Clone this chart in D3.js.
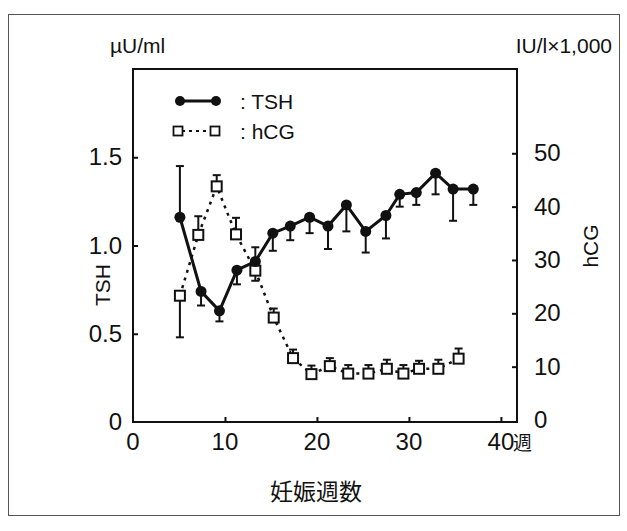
<!DOCTYPE html>
<html>
<head>
<meta charset="utf-8">
<script src="https://cdn.jsdelivr.net/npm/d3@7"></script>
<style>
  body { margin: 0; background: #fff; }
  text { font-family: "Liberation Sans", Arial, sans-serif; fill: #111; }
</style>
</head>
<body>
<svg id="chart" width="627" height="531"></svg>
<script>
// TSH (left axis, µU/ml)
const tshWeeks = [5.1, 7.4, 9.4, 11.3, 13.3, 15.2, 17.1, 19.2, 21.2, 23.2, 25.3, 27.5, 29.0, 30.8, 32.9, 34.8, 37.0];
const tshMean  = [1.16, 0.74, 0.63, 0.86, 0.91, 1.07, 1.11, 1.16, 1.11, 1.23, 1.08, 1.17, 1.29, 1.30, 1.41, 1.32, 1.32];
const tshErr   = [1.45, 0.66, 0.57, 0.78, 0.99, 0.97, 1.03, 1.07, 0.98, 1.08, 0.96, 1.04, 1.22, 1.23, 1.29, 1.14, 1.23];

// hCG (right axis, IU/l x 1,000)
const hcgWeeks = [5.1, 7.1, 9.1, 11.2, 13.3, 15.3, 17.4, 19.4, 21.4, 23.4, 25.6, 27.6, 29.4, 31.1, 33.2, 35.4];
const hcgMean  = [23.3, 34.7, 43.8, 34.8, 28.0, 19.2, 11.6, 8.6, 10.1, 8.7, 8.7, 9.6, 8.7, 9.6, 9.6, 11.5];
const hcgErr   = [15.5, 38.2, 45.9, 37.9, 26.1, 20.9, 13.2, 10.2, 11.6, 10.3, 10.3, 11.3, 10.3, 11.1, 11.3, 13.4];

const xTicks = [0, 10, 20, 30, 40];
const tshTicks = [0, 0.5, 1.0, 1.5];
const hcgTicks = [0, 10, 20, 30, 40, 50];

const svg = d3.select("#chart");
const L = 133, R = 517, T = 69, B = 422;

const x = d3.scaleLinear().domain([0, 41.75]).range([L, R]);
const yL = d3.scaleLinear().domain([0, 2.0]).range([B, T]);
const yR = d3.scaleLinear().domain([0, 65.8]).range([B - 2, T]);

// outer frame
svg.append("rect").attr("x", 8.5).attr("y", 14.5).attr("width", 611).attr("height", 501)
  .attr("fill", "none").attr("stroke", "#555").attr("stroke-width", 1);

// plot frame
svg.append("rect").attr("x", L).attr("y", T).attr("width", R - L).attr("height", B - T)
  .attr("fill", "none").attr("stroke", "#111").attr("stroke-width", 2);

// axes (ticks pointing inward)
const xAxis = svg.append("g").attr("transform", `translate(0,${B})`)
  .call(d3.axisTop(x).tickValues(xTicks.slice(1)).tickSize(5).tickFormat(""));
const yAxisL = svg.append("g").attr("transform", `translate(${L},0)`)
  .call(d3.axisRight(yL).tickValues(tshTicks.slice(1)).tickSize(5).tickFormat(""));
const yAxisR = svg.append("g").attr("transform", `translate(${R},0)`)
  .call(d3.axisLeft(yR).tickValues(hcgTicks.slice(1)).tickSize(5).tickFormat(""));
[xAxis, yAxisL, yAxisR].forEach(g => {
  g.select(".domain").remove();
  g.selectAll("line").attr("stroke", "#111").attr("stroke-width", 2);
});

// tick labels
svg.selectAll(".xl").data(xTicks).enter().append("text")
  .attr("x", d => x(d)).attr("y", 450).attr("text-anchor", "middle")
  .attr("font-size", 24).text(d => d);
svg.append("text").attr("x", x(40) + 12).attr("y", 450).attr("font-size", 19)
  .style("font-family", "'Noto Sans CJK JP'").text("週");

svg.selectAll(".yl").data(tshTicks).enter().append("text")
  .attr("x", 122).attr("y", d => yL(d) + 8).attr("text-anchor", "end")
  .attr("font-size", 24).text(d => d === 0 ? "0" : d.toFixed(1));
svg.selectAll(".yr").data(hcgTicks).enter().append("text")
  .attr("x", 534).attr("y", d => yR(d) + 8)
  .attr("font-size", 24).text(d => d);

// axis titles
svg.append("text").attr("x", 110).attr("y", 53).attr("font-size", 21).text("µU/ml");
svg.append("text").attr("x", 612).attr("y", 53).attr("text-anchor", "end").attr("font-size", 21).text("IU/l×1,000");
svg.append("text").attr("transform", "translate(110,285) rotate(-90)").attr("text-anchor", "middle")
  .attr("font-size", 21).text("TSH");
svg.append("text").attr("transform", "translate(598,246) rotate(-90)").attr("text-anchor", "middle")
  .attr("font-size", 21).text("hCG");
svg.append("text").attr("x", 316).attr("y", 500).attr("text-anchor", "middle")
  .attr("font-size", 23).style("font-family", "'Noto Sans CJK JP'").text("妊娠週数");

const tsh = tshWeeks.map((w, i) => ({ w, v: tshMean[i], e: tshErr[i] }));
const hcg = hcgWeeks.map((w, i) => ({ w, v: hcgMean[i], e: hcgErr[i] }));

// error bars
function bars(data, y) {
  const g = svg.append("g").attr("stroke", "#111").attr("stroke-width", 2);
  g.selectAll("line.v").data(data).enter().append("line")
    .attr("x1", d => x(d.w)).attr("x2", d => x(d.w))
    .attr("y1", d => y(d.v)).attr("y2", d => y(d.e));
  g.selectAll("line.c").data(data).enter().append("line")
    .attr("x1", d => x(d.w) - 4).attr("x2", d => x(d.w) + 4)
    .attr("y1", d => y(d.e)).attr("y2", d => y(d.e));
}
bars(hcg, yR);
bars(tsh, yL);

// hCG dotted line
const hcgLine = d3.line().x(d => x(d.w)).y(d => yR(d.v));
svg.append("path").datum(hcg).attr("d", hcgLine).attr("fill", "none")
  .attr("stroke", "#111").attr("stroke-width", 2.5).attr("stroke-dasharray", "3,5");
svg.selectAll(".sq").data(hcg).enter().append("rect")
  .attr("x", d => x(d.w) - 5).attr("y", d => yR(d.v) - 5)
  .attr("width", 10).attr("height", 10)
  .attr("fill", "#fff").attr("stroke", "#111").attr("stroke-width", 2);

// TSH solid line
const tshLine = d3.line().x(d => x(d.w)).y(d => yL(d.v));
svg.append("path").datum(tsh).attr("d", tshLine).attr("fill", "none")
  .attr("stroke", "#111").attr("stroke-width", 3);
svg.selectAll(".dot").data(tsh).enter().append("circle")
  .attr("cx", d => x(d.w)).attr("cy", d => yL(d.v)).attr("r", 5.5).attr("fill", "#111");

// legend
const lg = svg.append("g");
lg.append("line").attr("x1", 180).attr("x2", 216).attr("y1", 101).attr("y2", 101)
  .attr("stroke", "#111").attr("stroke-width", 3);
lg.selectAll("circle").data([180, 216]).enter().append("circle")
  .attr("cx", d => d).attr("cy", 101).attr("r", 5).attr("fill", "#111");
lg.append("text").attr("x", 240).attr("y", 109).attr("font-size", 21).text(":  TSH");
lg.append("line").attr("x1", 182).attr("x2", 212).attr("y1", 131).attr("y2", 131)
  .attr("stroke", "#111").attr("stroke-width", 2).attr("stroke-dasharray", "3,4");
lg.selectAll("rect").data([178, 215]).enter().append("rect")
  .attr("x", d => d - 4.5).attr("y", 126.5).attr("width", 9).attr("height", 9)
  .attr("fill", "#fff").attr("stroke", "#111").attr("stroke-width", 1.8);
lg.append("text").attr("x", 240).attr("y", 139).attr("font-size", 21).text(":  hCG");
</script>
</body>
</html>
